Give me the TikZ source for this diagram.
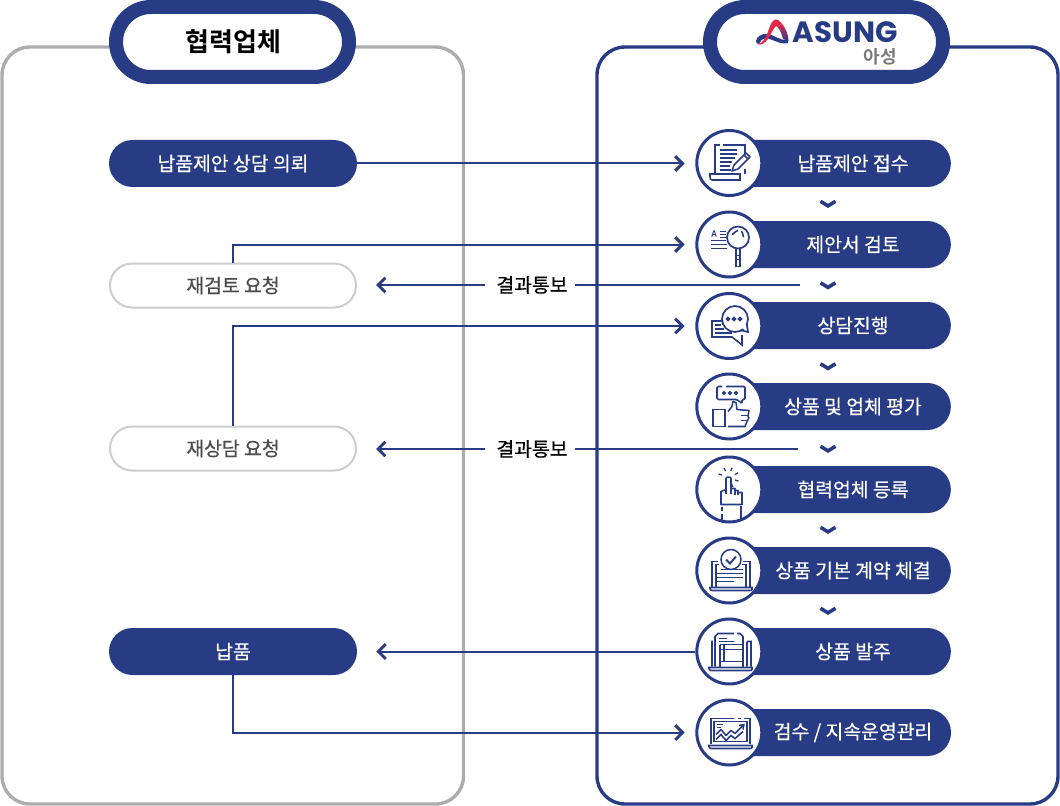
\documentclass[tikz,border=0pt]{standalone}
\usepackage{fontspec}
\setmainfont{Noto Sans CJK KR}[FakeBold=0.55]
\newfontfamily\heavyfont{Noto Sans CJK KR Bold}
\newfontfamily\latinbold{Poppins}[UprightFont=* Bold]
\usetikzlibrary{shapes.misc,arrows.meta}
\definecolor{navy}{HTML}{283B85}
\definecolor{panelgray}{HTML}{ADADAD}
\definecolor{softgray}{HTML}{CDCDCD}
\definecolor{logored}{HTML}{E8274B}
\tikzset{
  panel/.style={line width=3.4*0.75pt,rounded corners=21pt},
  header/.style={rounded rectangle,draw=navy,line width=10.5pt,fill=white,minimum width=233*0.75pt,minimum height=70*0.75pt,inner sep=0pt},
  fillpill/.style={rounded rectangle,fill=navy,text=white,minimum width=248*0.75pt,minimum height=47*0.75pt,inner sep=0pt,font=\fontsize{14.5pt}{16pt}\selectfont},
  linepill/.style={rounded rectangle,draw=softgray,line width=1.5pt,fill=white,text=black!70,minimum width=246*0.75pt,minimum height=44*0.75pt,inner sep=0pt,font=\fontsize{14.5pt}{16pt}\selectfont},
  stepbox/.style={rounded rectangle,rounded rectangle west arc=none,fill=navy,text=white,minimum width=210*0.75pt,minimum height=47*0.75pt,inner sep=0pt,font=\fontsize{14.5pt}{16pt}\selectfont,execute at begin node={\hspace*{12pt}}},
  stepdisc/.style={circle,draw=navy,fill=white,line width=2.25pt,minimum size=65*0.75pt,inner sep=0pt},
  notice/.style={text=black,inner sep=0pt,minimum width=90*0.75pt,minimum height=20*0.75pt,font=\fontsize{14.5pt}{16pt}\selectfont,execute at begin node={\hspace*{3pt}}},
  conn/.style={draw=navy,line width=1.5pt},
  tipped/.style={conn,-{Straight Barb[length=5.5pt,width=11pt,line width=2.2pt]}},
  chevron/.style={draw=navy,line width=2.7pt,miter limit=8},
  ic/.style={draw=navy,line width=1.15pt,line cap=butt,line join=miter}
}
\newcommand{\chev}[2]{\draw[chevron] (#1-7.5,#2-3.2)--(#1,#2+1.4)--(#1+7.5,#2-3.2);}
\newcommand{\icondoc}[2]{\begin{scope}[shift={(#1,#2)}]
 \draw[ic] (-14,10) -- (-14,-18) -- (-9,-18) (-6,-18) -- (16,-18) -- (16,-7) (16,6)--(16,11);
 \draw[ic] (-9,-13)--(8,-13) (-9,-9)--(8,-9) (-9,-5)--(6,-5) (-9,-1)--(3,-1) (-9,3)--(1,3) (-9,7)--(2,7);
 \draw[ic] (-19,11) -- (11,11) -- (11,17) -- (-17,17) to[out=180,in=-90] (-19,14) -- cycle;
 \draw[ic,fill=white,line join=round] (3,8)--(5,2)--(17,-10)--(21,-6)--(9,6)--cycle;
 \draw[ic] (15,-8)--(19,-4);
\end{scope}}
\newcommand{\iconlens}[2]{\begin{scope}[shift={(#1,#2)}]
 \node[navy,inner sep=0pt,font=\fontsize{6.5pt}{7pt}\selectfont] (aglyph) at (-15,-11) {A};
 \draw[ic] (-9,-13)--(-3,-13) (-9,-10)--(-3,-10) (-9,-7)--(-3,-7) (-18,-4)--(-3,-4) (-18,0)--(-2,0) (-18,4)--(-2,4);
 \draw[ic,fill=white,line width=1.3pt] (9,-7) circle (11);
 \draw[ic] (3,-11) to[out=-80,in=180] (9,-14) (12,-13) to[out=10,in=-120] (15,-8);
 \draw[ic] (7,4)--(7,22)--(11,22)--(11,4) (7,11)--(11,11) (7,15)--(11,15);
\end{scope}}
\newcommand{\iconchat}[2]{\begin{scope}[shift={(#1,#2)}]
 \draw[ic] (-7,-5)--(-17,-5)--(-17,11)--(3,11)--(13,19)--(13,9);
 \draw[ic] (-14,-1)--(-8,-1) (-14,3)--(-5,3) (-14,7)--(3,7);
 \draw[ic,fill=white,line width=1.3pt] (6,-7) circle (13);
 \fill[white] (12,2)--(16.5,-2)--(18,4)--cycle;
 \draw[ic,line width=1.3pt] (17.8,-2) -- (19,6) -- (12,4.3);
 \foreach \dx in {-1,5,11} \draw[ic] (\dx,-7) circle (1.5);
\end{scope}}
\newcommand{\iconthumb}[2]{\begin{scope}[shift={(#1,#2)}]
 \draw[ic,rounded corners=1pt] (-7,-20)--(-12,-20)--(-12,-7)--(8,-7)--(13,-3)--(13,-7)--(16,-7)--(16,-20)--(-3,-20);
 \foreach \dx in {-5,1,7} \draw[ic] (\dx,-13.5) circle (1.2);
 \draw[ic] (-16,3)--(-4,3)--(-4,20)--(-16,20)--cycle;
 \draw[ic,line join=round] (-1,5)--(3,0)--(4,-5)--(7,-4)--(8,3)--(20,4)--(19,10)--(20,11)--(18,15)--(16,20)--(-1,20);
 \draw[ic] (12,9)--(20,9) (12,14)--(18,14);
\end{scope}}
\newcommand{\iconhand}[2]{\begin{scope}[shift={(#1,#2)}]
 \draw[ic,line join=round] (-8,15)--(-8,2)--(-3,0)--(-3,-11) to[out=90,in=90] (2,-11) -- (2,-1)--(6,-1)--(6,1)--(9,1)--(9,3)--(13,3)--(13,15)--cycle;
 \draw[ic] (2,-3)--(2,4) (6,0)--(6,5) (9,2)--(9,5) (-3,-1)--(-3,4);
 \draw[ic] (-7,17)--(-7,21) (-7,24)--(-7,31) (12,16)--(12,30);
 \foreach \a in {20,65,110,155,200,245}{\draw[ic,line width=1pt] (-0.5,-12)++(\a+180:7)--++(\a+180:3.5);}
\end{scope}}
\newcommand{\iconcontract}[2]{\begin{scope}[shift={(#1,#2)}]
 \draw[ic] (-11,-9)--(-17,-9)--(-17,16) (-13,16)--(-13,-6)--(-10,-6) (13,-6)--(17,-6)--(17,16) (21,16)--(21,-9)--(14,-9);
 \draw[ic] (-8,-1)--(14,-1) (-13,3)--(14,3) (-13,7)--(14,7) (-13,11)--(5,11);
 \draw[ic] (-19,17)--(23,17)--(23,19) to[out=-90,in=0] (21,20)--(-17,20) to[out=180,in=-90] (-19,18)--cycle;
 \draw[ic,fill=white] (2,-11) circle (10);
 \draw[ic,line width=1.4pt] (-3,-11)--(1,-7)--(7,-14);
\end{scope}}
\newcommand{\iconorder}[2]{\begin{scope}[shift={(#1,#2)}]
 \draw[ic] (-17,15)--(-17,-11)  (-14,15)--(-14,-15)--(-11,-18)--(5,-18) (8,-18)--(11,-18)--(14,-15)--(14,-7) (18,15)--(18,-10) (22,15)--(22,-10)--(18,-10);
 \draw[ic] (-10,-13)--(-2,-13) (-10,-10)--(5,-10);
 \draw[ic] (-9,-7)--(14,-7)--(14,15) (-9,-7)--(-9,15) (-9,10)--(14,10) (-5,-7)--(-5,10) (-9,-2)--(14,-2);
 \draw[ic] (-20,16)--(23,16)--(23,18) to[out=-90,in=0] (21,19)--(-18,19) to[out=180,in=-90] (-20,17)--cycle;
\end{scope}}
\newcommand{\iconchart}[2]{\begin{scope}[shift={(#1,#2)}]
 \draw[ic] (-18,11)--(-18,-14)--(5,-14) (9,-14)--(12,-14) (15,-14)--(21,-14)--(21,11);
 \draw[ic] (-15,9)--(-15,-11)--(18,-11)--(18,9)--cycle;
 \draw[ic] (-12,-8)--(-6,-8) (-12,-5)--(-8,-5);
 \draw[ic,line join=round] (-13,2)--(-8,-3)--(-3,3)--(2,-2)--(6,1)--(14,-7) (10,-7)--(15,-8)--(14,-3);
 \draw[ic] (-13,7)--(-8,2)--(-3,8)--(2,3)--(6,6)--(14,-1);
 \draw[ic] (-20,13)--(23,13)--(23,15) to[out=-90,in=0] (21,16)--(-18,16) to[out=180,in=-90] (-20,14)--cycle;
\end{scope}}
\begin{document}
\begin{tikzpicture}[x=0.75pt,y=-0.75pt]
\useasboundingbox (0,0) rectangle (1060,806);
\draw[panel,draw=panelgray] (2,47) rectangle (463.5,804);
\draw[panel,draw=navy] (597,47) rectangle (1058,804);
\node[header] (partner) at (232.5,42) {\heavyfont\fontsize{19.5pt}{22pt}\selectfont\hspace*{1.5pt}협력업체};
\node[header] (asung) at (826.5,42) {};
% logo
\fill[navy] (756,41) .. controls (756.5,36.5) and (762,33.5) .. (767,34) .. controls (775,35) and (780,41) .. (788,40) -- (788,43) .. controls (779,45) and (773,38.5) .. (766,38.5) .. controls (762,38.5) and (760,41) .. (759,44) .. controls (757,44) and (756,43) .. (756,41) -- cycle;
\fill[logored] (757,44) .. controls (763,44.5) and (766,37) .. (769,29) .. controls (771,23) and (773,19.5) .. (776,19.5) .. controls (778,19.5) and (780,21) .. (781.5,23) -- (778,27.5) -- (776,26) .. controls (773,29) and (771,34) .. (768,39) .. controls (765,43) and (761,46) .. (757,44) -- cycle;
\shade[top color=logored,bottom color=navy] (781.5,23) .. controls (785,27) and (788.5,34) .. (788.5,41) -- (783,39) .. controls (782,34) and (780,30) .. (778,27.5) -- cycle;
\node[anchor=base west,navy,inner sep=0pt,font=\latinbold\fontsize{22pt}{24pt}\selectfont] (asungname) at (792.5,43) {ASUNG};
\node[anchor=base east,text=black!52,inner sep=0pt,font=\heavyfont\fontsize{13.5pt}{14pt}\selectfont] (asungkr) at (897,63.5) {아성};
% left nodes
\node[fillpill] (ask) at (233,163.5) {납품제안 상담 의뢰};
\node[linepill] (rereview) at (233,285.5) {재검토 요청};
\node[linepill] (recounsel) at (233,448.5) {재상담 요청};
\node[fillpill] (deliver) at (233,651.5) {납품};
% right nodes
\foreach \nm/\yy/\dy/\tx in {a/163.5/163/납품제안 접수,b/244.5/244.5/제안서 검토,c/325.5/326/상담진행,d/406.5/406.5/상품 및 업체 평가,e/489.5/489.5/협력업체 등록,f/570.5/570.5/상품 기본 계약 체결,g/651.5/651.5/상품 발주,h/732.5/732.5/{검수 / 지속운영관리}}{
  \node[stepbox] (box\nm) at (845,\yy) {\tx};
  \node[stepdisc] (disc\nm) at (729.3,\dy) {};
}
\icondoc{729}{163}
\iconlens{729}{244.5}
\iconchat{729}{326}
\iconthumb{729}{406.5}
\iconhand{729}{489.5}
\iconcontract{729}{570.5}
\iconorder{729}{651.5}
\iconchart{729}{732.5}
\chev{828}{204.5}\chev{828}{286}\chev{828}{367}\chev{828}{449.5}\chev{828}{530.5}\chev{828}{611.5}
% connectors
\coordinate (ta) at ([xshift=-8pt]disca.west);
\coordinate (tb) at ([xshift=-8pt]discb.west);
\coordinate (tc) at ([xshift=-8pt]discc.west);
\coordinate (th) at ([xshift=-8pt]disch.west);
\coordinate (start1) at (800,285);
\coordinate (start2) at (798,449);
\node[notice] (note1) at (530,285) {결과통보};
\node[notice] (note2) at (530,449) {결과통보};
\coordinate (tip1) at ([xshift=14.25pt]rereview.east |- note1.west);
\coordinate (tip2) at ([xshift=14.25pt]recounsel.east |- note2.west);
\draw[tipped] (ask.east) -- (ta |- ask.east);
\draw[tipped] (rereview.north) |- (tb);
\draw[tipped] (recounsel.north) |- (tc);
\draw[tipped] (deliver.south) |- (th);
\draw[conn] (start1) -- (note1.east);
\draw[conn] (start2) -- (note2.east);
\draw[tipped] (note1.west) -- (tip1);
\draw[tipped] (note2.west) -- (tip2);
\draw[tipped] (discg.west) -- ([xshift=14.25pt]deliver.east);
\end{tikzpicture}
\end{document}
